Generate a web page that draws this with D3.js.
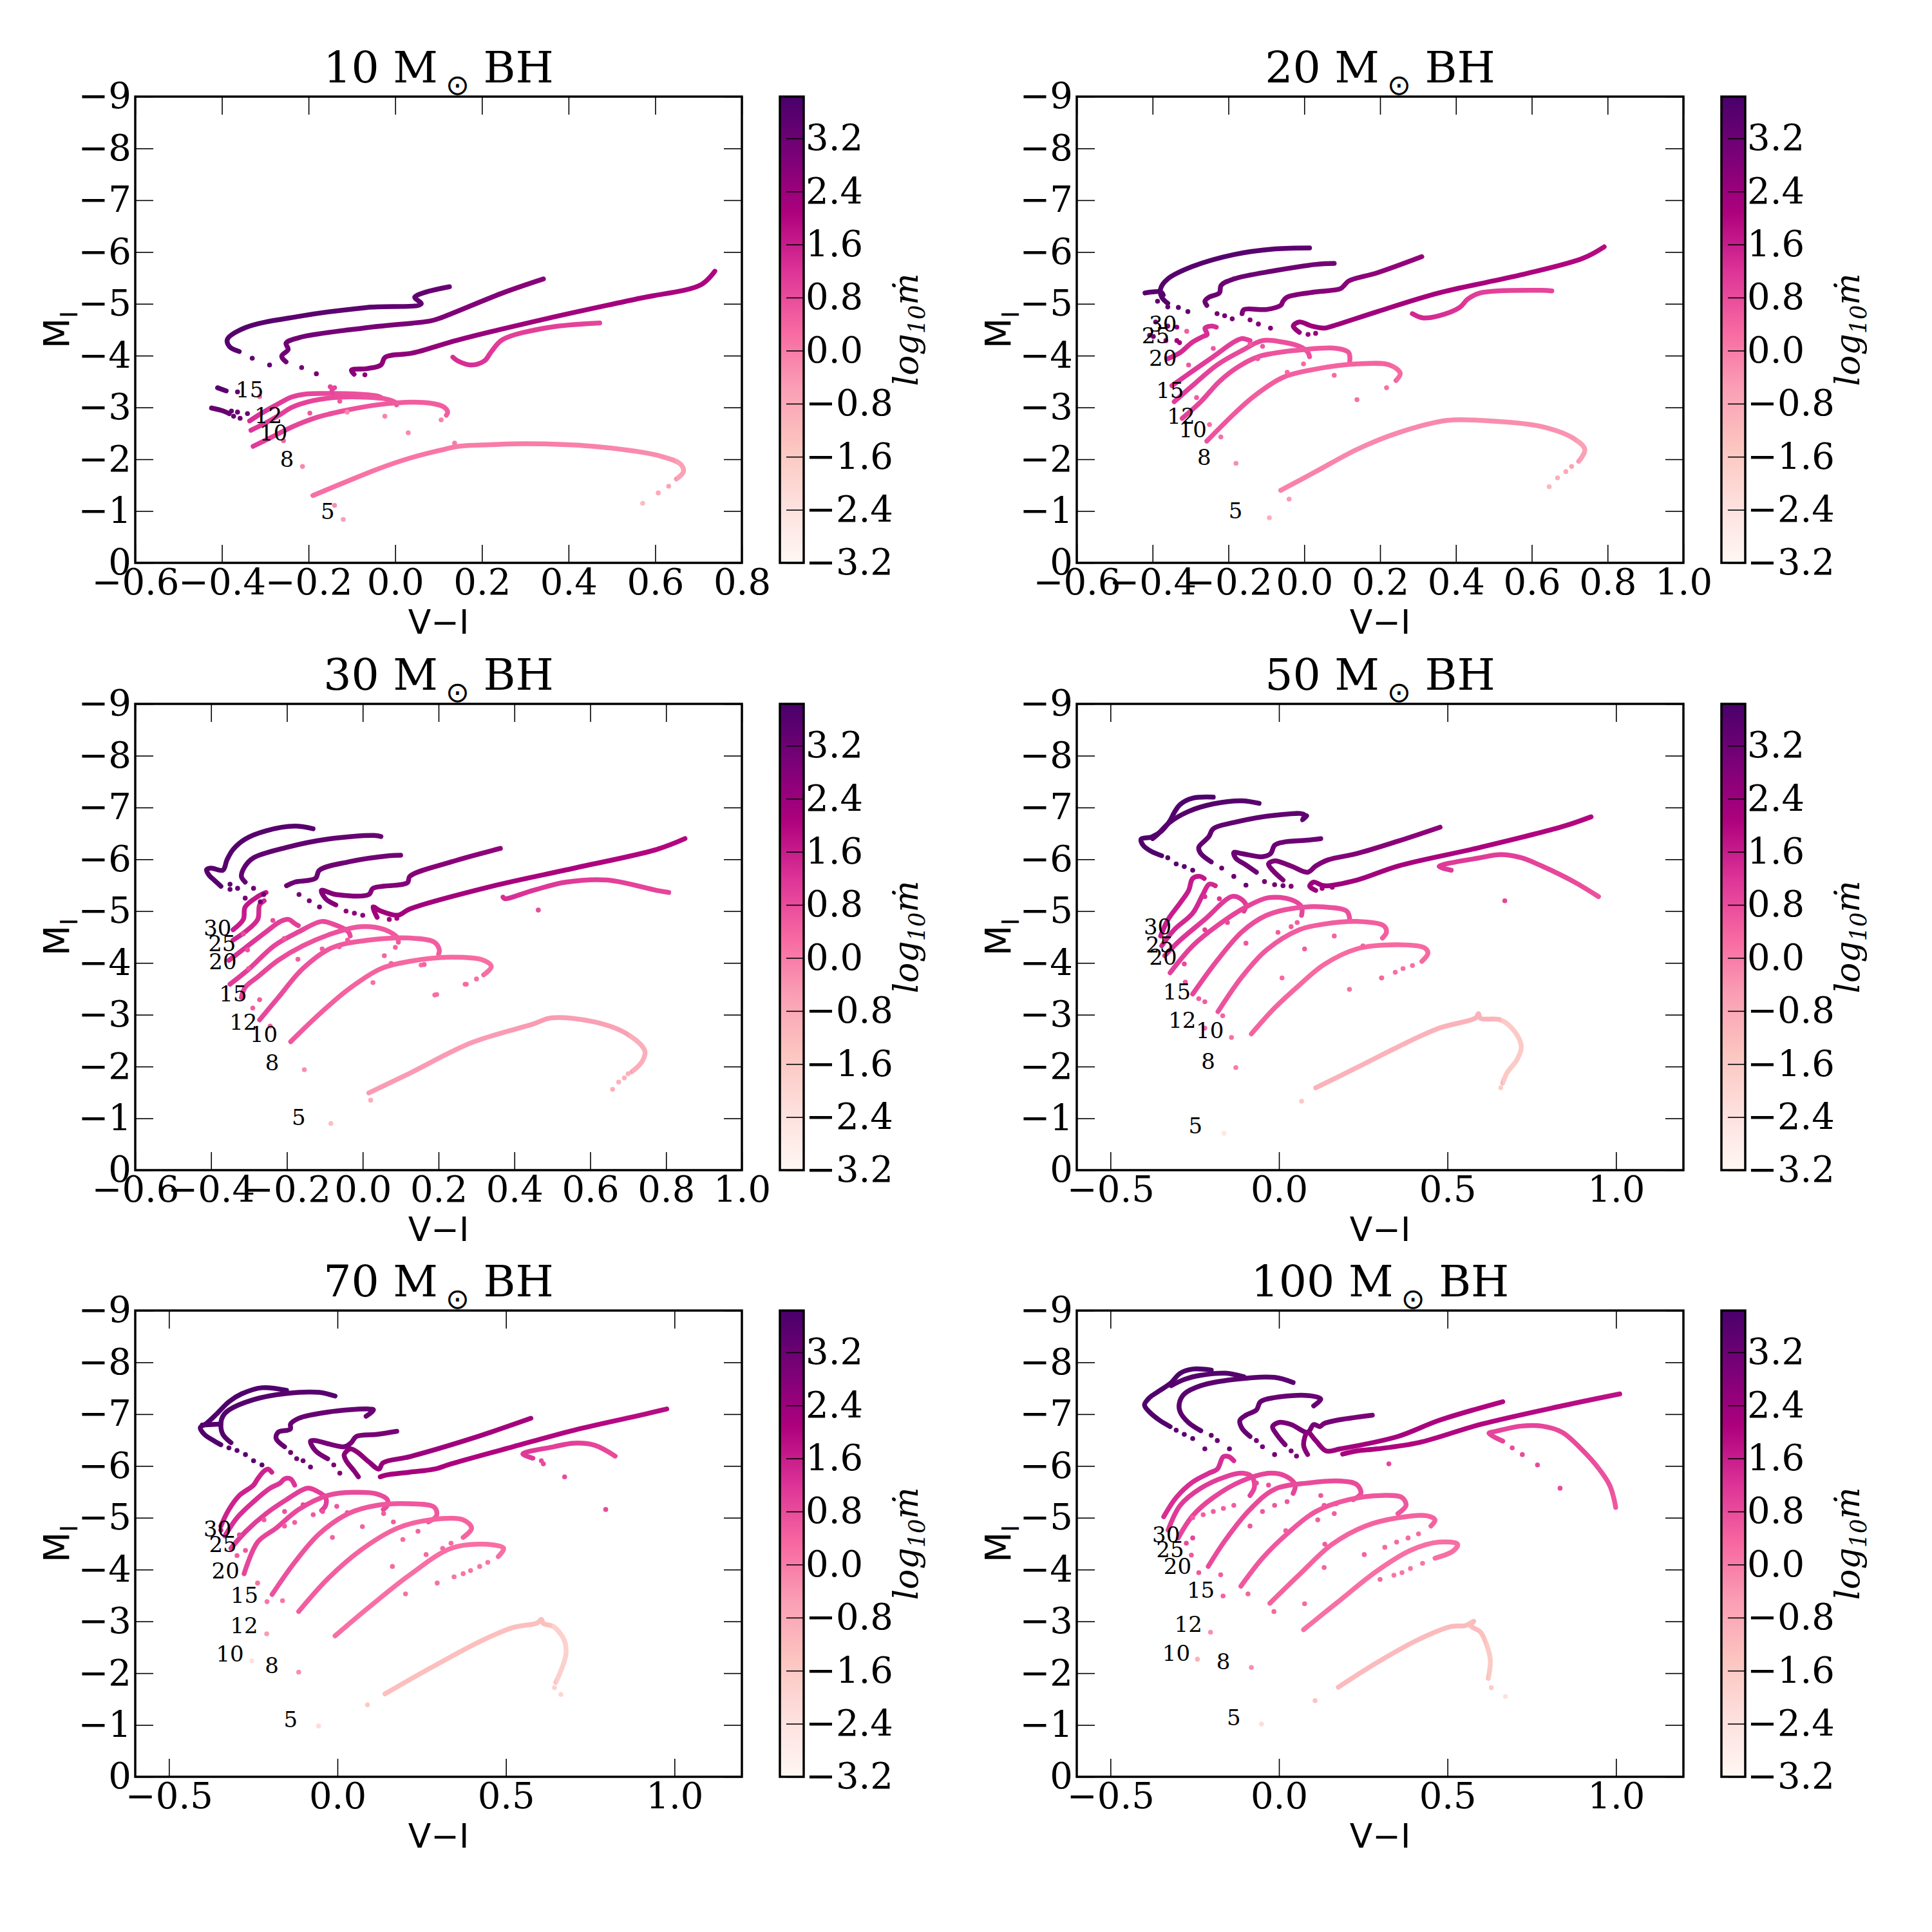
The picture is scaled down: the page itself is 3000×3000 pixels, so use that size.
<!DOCTYPE html>
<html>
<head>
<meta charset="utf-8">
<script src="https://cdn.jsdelivr.net/npm/d3@7"></script>
<style>
  body { margin: 0; background: #fff; }
</style>
</head>
<body>
<script>
// ---- data ----
const bhMasses = ["10", "20", "30", "50", "70", "100"];
const xDomains = [[-0.6, 0.8], [-0.6, 1.0], [-0.6, 1.0], [-0.6, 1.2], [-0.6, 1.2], [-0.6, 1.2]];
const xTicksFine = [-0.6, -0.4, -0.2, 0.0, 0.2, 0.4, 0.6, 0.8, 1.0];
const xTicksCoarse = [-0.5, 0.0, 0.5, 1.0];
const yTicks = [-9, -8, -7, -6, -5, -4, -3, -2, -1, 0];
const cbTicks = [-3.2, -2.4, -1.6, -0.8, 0.0, 0.8, 1.6, 2.4, 3.2];
const cRange = [-3.2, 3.83];

// tracks: [V-I, M_I, log10 mdot]
const tracks10 = [
  [[0.125,-5.33,3.3],[0.045,-5.13,3.4],[0.06,-5.0,3.4],[-0.065,-4.93,3.5],[-0.221,-4.76,3.5],[-0.346,-4.54,3.6],[-0.3875,-4.31,3.6],[-0.382,-4.17,3.6],[-0.36,-4.08,3.6]],
  [[0.342,-5.48,2.7],[0.248,-5.21,2.8],[0.102,-4.72,2.9],[0.081,-4.67,2.9],[-0.065,-4.54,3.0],[-0.221,-4.35,3.1],[-0.252,-4.24,3.1],[-0.247,-4.12,3.1],[-0.262,-3.99,3.1],[-0.252,-3.88,3.1]],
  [[0.7375,-5.63,2.0],[0.706,-5.37,2.1],[0.56,-5.10,2.2],[0.352,-4.72,2.3],[0.144,-4.30,2.5],[0.04,-4.05,2.6],[-0.023,-3.97,2.6],[-0.033,-3.82,2.7],[-0.065,-3.75,2.7],[-0.101,-3.72,2.7],[-0.095,-3.64,2.7]],
  [[0.472,-4.63,0.9],[0.352,-4.54,1.0],[0.248,-4.31,1.0],[0.222,-4.08,1.1],[0.206,-3.90,1.2],[0.175,-3.82,1.3],[0.144,-3.90,1.3],[0.133,-3.97,1.3]],
  [[-0.41,-3.38,3.5],[-0.39,-3.32,3.5]],
  [[-0.424,-2.99,3.3],[-0.40,-2.94,3.3],[-0.383,-2.88,3.3]],
  [[-0.336,-2.74,1.3],[-0.308,-2.89,1.2],[-0.274,-3.05,1.1],[-0.239,-3.20,1.0],[-0.205,-3.26,0.9],[-0.16,-3.27,0.8],[-0.091,-3.26,0.7],[-0.041,-3.22,0.7],[-0.03,-3.18,0.7]],
  [[-0.333,-2.56,1.2],[-0.299,-2.70,1.1],[-0.264,-2.87,1.0],[-0.239,-3.0,1.0],[-0.19,-3.13,0.9],[-0.14,-3.19,0.8],[-0.08,-3.20,0.7],[-0.02,-3.16,0.6],[0.0,-3.10,0.6],[0.003,-3.05,0.6]],
  [[-0.328,-2.25,1.1],[-0.289,-2.41,1.0],[-0.239,-2.62,0.9],[-0.18,-2.81,0.8],[-0.116,-2.94,0.7],[-0.041,-3.05,0.6],[0.033,-3.10,0.5],[0.083,-3.08,0.5],[0.112,-3.01,0.5],[0.121,-2.91,0.5],[0.118,-2.85,0.5]],
  [[-0.19,-1.30,0.2],[-0.115,-1.56,0.2],[-0.041,-1.81,0.1],[0.033,-2.02,0.1],[0.107,-2.18,0.1],[0.147,-2.25,0.0],[0.22,-2.28,0.0],[0.30,-2.30,0.0],[0.456,-2.25,-0.1],[0.6125,-2.06,-0.3],[0.659,-1.90,-0.4],[0.665,-1.76,-0.5],[0.649,-1.62,-0.6]]
];
const dots10 = [
  [-0.33,-3.95,3.4],[-0.29,-3.82,3.4],[-0.216,-3.77,3.0],[-0.182,-3.65,3.0],[-0.07,-3.63,2.7],
  [-0.364,-3.30,3.4],[-0.378,-2.93,3.3],[-0.364,-2.91,3.3],[-0.341,-2.88,3.2],[-0.373,-2.83,3.3],[-0.358,-2.79,3.2],
  [-0.15,-3.40,0.9],[-0.14,-3.38,0.9],[-0.146,-3.33,0.9],[-0.145,-3.28,0.9],[0.137,-2.31,0.0],
  [0.631,-1.48,-0.7],[0.607,-1.35,-0.8],[0.571,-1.15,-1.2],[-0.14,-1.11,-0.3],[-0.12,-0.84,-0.6],
  [-0.214,-1.86,-0.2],[-0.258,-2.36,0.4],[-0.197,-2.89,0.6],[-0.128,-3.12,0.6],[-0.111,-2.91,-0.2],
  [-0.024,-2.83,-0.1],[0.03,-2.51,-0.2],[0.106,-2.76,-0.1],[-0.313,-3.21,0.4]
];
const labels10 = [["15",-0.336,-3.34],["12",-0.293,-2.85],["10",-0.281,-2.51],["8",-0.25,-2.0],["5",-0.156,-1.0]];

const tracks20 = [
  [[0.014,-6.08,3.5],[-0.078,-6.06,3.5],[-0.186,-5.95,3.6],[-0.295,-5.72,3.6],[-0.36,-5.48,3.6],[-0.379,-5.29,3.6],[-0.376,-5.13,3.6],[-0.36,-5.01,3.6]],
  [[-0.42,-5.21,3.6],[-0.40,-5.23,3.6],[-0.378,-5.23,3.6],[-0.372,-5.17,3.6]],
  [[0.079,-5.78,3.1],[0.03,-5.76,3.1],[-0.078,-5.64,3.2],[-0.186,-5.48,3.2],[-0.219,-5.36,3.2],[-0.224,-5.21,3.2],[-0.251,-5.13,3.2],[-0.262,-5.05,3.2],[-0.257,-4.97,3.2]],
  [[0.31,-5.91,2.5],[0.193,-5.60,2.6],[0.117,-5.44,2.7],[0.106,-5.36,2.7],[0.095,-5.29,2.7],[0.03,-5.23,2.8],[-0.045,-5.13,2.8],[-0.056,-5.05,2.8],[-0.062,-4.97,2.8],[-0.1,-4.89,2.8],[-0.159,-4.89,2.9],[-0.164,-4.81,2.9]],
  [[0.791,-6.10,1.9],[0.735,-5.88,2.0],[0.572,-5.56,2.1],[0.355,-5.21,2.2],[0.193,-4.85,2.3],[0.074,-4.57,2.4],[0.052,-4.53,2.4],[0.02,-4.57,2.4],[-0.013,-4.65,2.4],[-0.029,-4.57,2.4],[-0.013,-4.45,2.4]],
  [[0.653,-5.25,0.9],[0.626,-5.26,0.9],[0.464,-5.21,1.0],[0.431,-5.09,1.1],[0.41,-4.93,1.2],[0.355,-4.77,1.3],[0.312,-4.73,1.4],[0.285,-4.81,1.4]],
  [[-0.36,-3.94,1.4],[-0.327,-4.06,1.4],[-0.295,-4.26,1.3],[-0.267,-4.37,1.3],[-0.256,-4.41,1.3],[-0.262,-4.53,1.3],[-0.246,-4.57,1.3],[-0.232,-4.55,1.3]],
  [[-0.349,-3.42,1.2],[-0.295,-3.70,1.1],[-0.24,-3.98,1.0],[-0.186,-4.26,1.0],[-0.164,-4.33,1.0],[-0.143,-4.29,1.0]],
  [[-0.343,-3.11,1.1],[-0.295,-3.42,1.0],[-0.23,-3.82,0.9],[-0.164,-4.10,0.8],[-0.11,-4.29,0.8],[-0.056,-4.26,0.7],[-0.013,-4.18,0.7],[0.009,-4.07,0.7],[0.014,-3.98,0.7]],
  [[-0.322,-2.79,1.0],[-0.273,-3.11,0.9],[-0.224,-3.50,0.8],[-0.175,-3.78,0.8],[-0.121,-3.98,0.7],[-0.024,-4.10,0.6],[0.085,-4.14,0.6],[0.117,-4.06,0.6],[0.12,-3.90,0.6]],
  [[-0.257,-2.35,0.7],[-0.186,-2.87,0.6],[-0.132,-3.22,0.5],[-0.056,-3.58,0.5],[0.03,-3.74,0.4],[0.139,-3.84,0.4],[0.225,-3.82,0.4],[0.253,-3.66,0.4],[0.242,-3.52,0.3]],
  [[-0.062,-1.40,-0.1],[0.03,-1.76,-0.1],[0.139,-2.19,-0.2],[0.247,-2.51,-0.2],[0.377,-2.75,-0.2],[0.464,-2.75,-0.3],[0.626,-2.63,-0.3],[0.713,-2.39,-0.4],[0.74,-2.19,-0.5],[0.724,-1.96,-0.6]]
];
const dots20 = [
  [-0.332,-4.93,3.4],[-0.307,-4.85,3.4],[-0.387,-5.05,3.4],[-0.36,-4.94,3.4],
  [-0.23,-4.81,3.1],[-0.21,-4.77,3.1],[-0.19,-4.71,3.1],[-0.143,-4.69,2.8],[-0.121,-4.61,2.8],[-0.089,-4.53,2.8],
  [0.01,-4.41,2.4],[0.03,-4.43,2.4],
  [0.705,-1.86,-0.7],[0.69,-1.76,-0.8],[0.668,-1.64,-0.9],[0.646,-1.47,-1.1],[-0.04,-1.23,-0.5],[-0.092,-0.87,-0.9],
  [-0.18,-1.92,-0.3],[0.139,-3.15,0.2],[0.079,-3.62,0.3],[-0.002,-3.84,0.3],[-0.045,-3.68,0.3],[0.217,-3.38,0.2],
  [-0.25,-2.67,0.2],[-0.22,-2.43,0.2],[-0.305,-3.82,0.6],[-0.24,-4.14,0.6],[-0.143,-4.22,0.6],[-0.11,-4.18,0.6],
  [-0.123,-3.94,0.6],[-0.284,-3.19,0.5],[-0.31,-4.47,0.5],
  [-0.392,-4.65,3.0],[-0.36,-4.57,2.8],[-0.336,-4.55,2.6],[-0.408,-4.39,3.2],[-0.398,-4.37,3.2],[-0.365,-4.29,2.4],[-0.336,-4.29,2.3],[-0.329,-4.25,2.2]
];
const labels20 = [["30",-0.373,-4.61],["25",-0.392,-4.39],["20",-0.373,-3.95],["15",-0.354,-3.33],["12",-0.325,-2.83],["10",-0.294,-2.57],["8",-0.264,-2.04],["5",-0.181,-1.01]];

const tracks30 = [
  [[-0.131,-6.59,3.6],[-0.179,-6.64,3.6],[-0.255,-6.55,3.6],[-0.31,-6.39,3.6],[-0.342,-6.19,3.6],[-0.358,-5.99,3.6],[-0.369,-5.79,3.6],[-0.40,-5.83,3.6],[-0.412,-5.80,3.6],[-0.405,-5.69,3.6],[-0.392,-5.60,3.6],[-0.374,-5.48,3.6]],
  [[0.048,-6.44,3.3],[0.03,-6.46,3.3],[-0.093,-6.39,3.4],[-0.201,-6.23,3.4],[-0.288,-6.03,3.4],[-0.31,-5.87,3.4],[-0.32,-5.67,3.4],[-0.31,-5.56,3.4]],
  [[0.1,-6.08,3.1],[0.07,-6.07,3.1],[-0.038,-5.95,3.1],[-0.114,-5.79,3.2],[-0.125,-5.63,3.2],[-0.179,-5.56,3.2],[-0.201,-5.49,3.2]],
  [[0.363,-6.21,2.6],[0.233,-5.95,2.7],[0.124,-5.67,2.8],[0.118,-5.55,2.8],[0.027,-5.44,2.8],[0.016,-5.32,2.8],[-0.071,-5.32,2.8],[-0.109,-5.40,2.8],[-0.098,-5.24,2.8],[-0.071,-5.12,2.8]],
  [[0.85,-6.40,2.0],[0.775,-6.19,2.0],[0.558,-5.83,2.1],[0.341,-5.48,2.2],[0.124,-5.04,2.3],[0.092,-4.92,2.3],[0.048,-5.0,2.3],[0.027,-5.08,2.3],[0.038,-4.88,2.3]],
  [[0.807,-5.36,0.9],[0.775,-5.40,0.9],[0.645,-5.60,1.0],[0.536,-5.56,1.1],[0.449,-5.40,1.2],[0.374,-5.24,1.3],[0.37,-5.27,1.3]],
  [[-0.342,-4.64,1.6],[-0.315,-4.84,1.6],[-0.31,-5.08,1.7],[-0.277,-5.28,1.7],[-0.255,-5.36,1.7]],
  [[-0.342,-4.44,1.5],[-0.31,-4.60,1.4],[-0.277,-4.84,1.4],[-0.272,-5.12,1.4],[-0.26,-5.20,1.4]],
  [[-0.353,-4.05,1.3],[-0.31,-4.29,1.2],[-0.255,-4.60,1.1],[-0.217,-4.80,1.0],[-0.196,-4.84,1.0],[-0.179,-4.76,1.0],[-0.17,-4.72,1.0]],
  [[-0.35,-3.59,1.1],[-0.299,-3.89,1.0],[-0.234,-4.33,0.9],[-0.169,-4.60,0.9],[-0.109,-4.80,0.8],[-0.082,-4.76,0.8],[-0.038,-4.60,0.8],[-0.033,-4.52,0.8]],
  [[-0.32,-3.33,1.0],[-0.31,-3.53,0.9],[-0.277,-3.73,0.9],[-0.223,-4.05,0.8],[-0.158,-4.33,0.7],[-0.071,-4.59,0.7],[-0.006,-4.70,0.6],[0.059,-4.64,0.6],[0.092,-4.48,0.6],[0.094,-4.40,0.6]],
  [[-0.272,-2.90,0.9],[-0.223,-3.33,0.8],[-0.158,-3.89,0.7],[-0.082,-4.29,0.6],[0.016,-4.44,0.5],[0.124,-4.48,0.5],[0.189,-4.40,0.5],[0.202,-4.25,0.5],[0.2,-4.17,0.5]],
  [[-0.19,-2.48,0.6],[-0.125,-2.94,0.5],[-0.038,-3.49,0.4],[0.048,-3.89,0.4],[0.124,-4.03,0.3],[0.233,-4.11,0.3],[0.319,-4.05,0.3],[0.339,-3.93,0.3],[0.319,-3.77,0.2]],
  [[0.016,-1.49,-0.5],[0.124,-1.87,-0.5],[0.287,-2.46,-0.5],[0.449,-2.82,-0.5],[0.498,-2.94,-0.5],[0.612,-2.86,-0.6],[0.699,-2.62,-0.6],[0.744,-2.30,-0.7],[0.737,-2.10,-0.8],[0.71,-1.90,-0.9]]
];
const dots30 = [
  [-0.35,-5.42,3.4],[-0.33,-5.44,3.4],[-0.35,-5.52,3.4],[-0.288,-5.44,3.2],[-0.261,-5.32,3.2],
  [-0.168,-5.32,3.0],[-0.141,-5.2,3.0],[-0.114,-5.08,3.0],[-0.044,-5.0,2.6],[-0.022,-4.96,2.6],[0.0,-4.92,2.6],
  [0.07,-4.84,2.2],[0.09,-4.86,2.2],[0.463,-5.02,0.8],[-0.31,-5.25,3.0],[-0.27,-5.18,3.0],
  [0.30,-3.69,0.2],[0.27,-3.59,0.2],[0.19,-3.38,0.2],[0.154,-3.96,0.2],[0.027,-3.62,0.2],
  [0.70,-1.86,-1.0],[0.69,-1.78,-1.0],[0.675,-1.70,-1.0],[0.659,-1.56,-1.0],[0.021,-1.35,-0.9],[-0.084,-0.90,-1.3],
  [-0.237,-4.82,0.8],[-0.207,-4.47,0.6],[-0.171,-4.07,0.5],[-0.107,-4.27,0.5],[-0.04,-4.44,0.5],[-0.062,-4.31,0.5],
  [0.057,-4.14,0.4],[0.086,-4.30,0.4],[0.075,-3.99,0.4],[0.162,-3.97,0.4],[0.195,-3.39,0.2],[0.273,-3.59,0.3],
  [-0.315,-4.56,0.8],[-0.304,-4.25,0.7],[-0.301,-3.89,0.6],[-0.272,-3.29,0.5],[-0.29,-3.13,0.5],[-0.154,-1.94,-0.3],[-0.244,-2.78,0.4]
];
const labels30 = [["30",-0.383,-4.68],["25",-0.371,-4.37],["20",-0.369,-4.03],["15",-0.342,-3.40],["12",-0.315,-2.86],["10",-0.261,-2.62],["8",-0.239,-2.08],["5",-0.169,-1.02]];

const tracks50 = [
  [[-0.195,-7.20,3.7],[-0.256,-7.18,3.7],[-0.293,-7.06,3.7],[-0.311,-6.90,3.7],[-0.323,-6.75,3.7],[-0.348,-6.55,3.7],[-0.378,-6.43,3.7],[-0.409,-6.39,3.7],[-0.403,-6.27,3.7],[-0.378,-6.15,3.7],[-0.348,-6.07,3.7]],
  [[-0.059,-7.08,3.6],[-0.11,-7.13,3.6],[-0.195,-7.07,3.6],[-0.27,-6.92,3.6],[-0.325,-6.71,3.6],[-0.36,-6.48,3.6],[-0.375,-6.40,3.6]],
  [[0.082,-6.84,3.4],[0.07,-6.76,3.4],[0.075,-6.86,3.4],[-0.013,-6.85,3.4],[-0.134,-6.71,3.4],[-0.195,-6.59,3.4],[-0.208,-6.44,3.4],[-0.22,-6.36,3.4],[-0.238,-6.23,3.4],[-0.232,-6.11,3.4],[-0.201,-5.95,3.4]],
  [[0.124,-6.40,3.2],[0.085,-6.37,3.2],[0.012,-6.33,3.2],[-0.013,-6.27,3.2],[-0.025,-6.11,3.2],[-0.049,-6.05,3.2],[-0.11,-6.11,3.2],[-0.134,-6.13,3.2],[-0.128,-6.02,3.2],[-0.098,-5.89,3.2],[-0.067,-5.75,3.2]],
  [[0.478,-6.62,2.6],[0.353,-6.35,2.7],[0.231,-6.11,2.8],[0.146,-5.99,2.8],[0.109,-5.87,2.9],[0.085,-5.75,2.9],[0.036,-5.87,2.9],[-0.013,-5.97,2.9],[-0.031,-5.91,2.9],[-0.019,-5.79,2.9],[0.012,-5.60,2.9]],
  [[0.926,-6.82,2.0],[0.84,-6.63,2.0],[0.597,-6.23,2.1],[0.353,-5.87,2.2],[0.231,-5.60,2.3],[0.134,-5.49,2.4],[0.103,-5.56,2.4],[0.091,-5.48,2.4],[0.109,-5.40,2.4]],
  [[0.511,-5.79,1.1],[0.475,-5.86,1.1],[0.597,-6.03,1.1],[0.658,-6.09,1.0],[0.719,-6.03,1.0],[0.78,-5.87,0.9],[0.877,-5.56,0.8],[0.948,-5.28,0.7]],
  [[-0.351,-4.52,1.6],[-0.329,-4.84,1.6],[-0.293,-5.16,1.6],[-0.268,-5.40,1.6],[-0.256,-5.63,1.7],[-0.234,-5.67,1.7],[-0.222,-5.63,1.7]],
  [[-0.348,-4.33,1.4],[-0.311,-4.64,1.4],[-0.256,-4.96,1.4],[-0.226,-5.32,1.4],[-0.207,-5.52,1.4],[-0.189,-5.49,1.4]],
  [[-0.339,-4.14,1.2],[-0.293,-4.44,1.2],[-0.22,-4.84,1.1],[-0.141,-5.28,1.1],[-0.116,-5.25,1.1],[-0.098,-5.12,1.1],[-0.104,-5.00,1.1]],
  [[-0.323,-3.81,1.0],[-0.256,-4.33,1.0],[-0.183,-4.72,0.9],[-0.098,-5.08,0.9],[-0.031,-5.26,0.9],[0.036,-5.22,0.9],[0.067,-5.08,0.9],[0.067,-4.92,0.9]],
  [[-0.256,-3.40,0.9],[-0.183,-4.05,0.8],[-0.11,-4.60,0.8],[-0.037,-4.92,0.7],[0.048,-5.06,0.7],[0.134,-5.08,0.7],[0.201,-5.0,0.7],[0.21,-4.84,0.7]],
  [[-0.181,-3.06,0.7],[-0.11,-3.73,0.6],[-0.037,-4.25,0.6],[0.06,-4.64,0.5],[0.134,-4.75,0.5],[0.231,-4.80,0.5],[0.31,-4.72,0.5],[0.319,-4.60,0.5],[0.307,-4.48,0.5]],
  [[-0.082,-2.63,0.4],[-0.013,-3.13,0.4],[0.06,-3.57,0.3],[0.134,-3.97,0.3],[0.231,-4.27,0.3],[0.353,-4.35,0.3],[0.432,-4.29,0.3],[0.442,-4.19,0.3],[0.424,-4.03,0.3]],
  [[0.109,-1.59,-1.0],[0.231,-1.98,-1.0],[0.353,-2.38,-1.0],[0.475,-2.74,-1.0],[0.584,-2.94,-1.0],[0.592,-3.02,-1.0],[0.598,-2.93,-1.0],[0.658,-2.90,-1.1],[0.701,-2.66,-1.2],[0.719,-2.38,-1.3],[0.707,-2.14,-1.4],[0.676,-1.87,-1.5],[0.664,-1.68,-1.6]]
];
const dots50 = [
  [-0.33,-6.03,3.5],[-0.305,-5.91,3.5],[-0.281,-5.86,3.5],[-0.256,-5.79,3.5],
  [-0.17,-5.83,3.3],[-0.134,-5.67,3.3],[-0.098,-5.50,3.3],[-0.043,-5.57,3.1],[-0.013,-5.51,3.1],[0.012,-5.49,3.1],
  [0.036,-5.48,2.8],[0.128,-5.44,2.3],[0.158,-5.46,2.3],[0.67,-5.20,0.9],
  [0.396,-3.95,0.2],[0.368,-3.89,0.2],[0.345,-3.82,0.2],[0.305,-3.71,0.2],
  [0.658,-1.59,-1.7],[0.067,-1.33,-1.5],[-0.163,-0.71,-2.6],
  [-0.22,-4.64,1.0],[-0.153,-4.78,0.8],[-0.098,-4.38,0.6],[-0.003,-4.59,0.5],[0.076,-4.27,0.5],[0.009,-3.71,0.3],
  [0.209,-3.49,0.2],[0.304,-3.71,0.3],[0.164,-4.52,0.4],[0.249,-4.33,0.4],[-0.281,-3.98,0.8],[-0.278,-3.63,0.6],
  [-0.238,-3.31,0.5],[-0.22,-3.25,0.5],[-0.167,-2.98,0.4],[-0.141,-2.56,0.2],[-0.128,-1.98,0.0],[-0.22,-2.74,0.3],
  [0.036,-4.70,0.5],[0.054,-4.78,0.5],[-0.22,-5.28,1.3],[-0.177,-5.24,1.2]
];
const labels50 = [["30",-0.36,-4.70],["25",-0.354,-4.35],["20",-0.344,-4.11],["15",-0.303,-3.44],["12",-0.287,-2.90],["10",-0.205,-2.70],["8",-0.21,-2.10],["5",-0.248,-0.86]];

const tracks70 = [
  [[-0.151,-7.46,3.7],[-0.224,-7.51,3.7],[-0.285,-7.39,3.7],[-0.322,-7.24,3.7],[-0.359,-7.0,3.7],[-0.389,-6.82,3.7],[-0.407,-6.74,3.7],[-0.395,-6.61,3.7],[-0.365,-6.48,3.7],[-0.346,-6.41,3.7]],
  [[-0.007,-7.35,3.6],[-0.054,-7.42,3.6],[-0.151,-7.40,3.6],[-0.249,-7.28,3.6],[-0.322,-7.08,3.6],[-0.34,-6.96,3.6],[-0.346,-6.81,3.6],[-0.34,-6.61,3.6],[-0.316,-6.45,3.6]],
  [[-0.401,-6.79,3.6],[-0.346,-6.81,3.6]],
  [[0.085,-6.96,3.3],[0.107,-7.08,3.3],[0.09,-7.10,3.3],[-0.029,-7.04,3.3],[-0.115,-6.92,3.3],[-0.139,-6.81,3.3],[-0.14,-6.71,3.3],[-0.176,-6.65,3.3],[-0.182,-6.53,3.3],[-0.157,-6.37,3.3]],
  [[0.176,-6.67,3.0],[0.117,-6.61,3.0],[0.056,-6.57,3.0],[0.041,-6.45,3.0],[0.02,-6.37,3.0],[-0.066,-6.49,3.0],[-0.08,-6.48,3.0],[-0.066,-6.30,3.0],[-0.029,-6.14,3.0]],
  [[0.574,-6.92,2.2],[0.398,-6.53,2.3],[0.215,-6.18,2.4],[0.135,-6.06,2.5],[0.123,-5.94,2.5],[0.093,-6.08,2.6],[0.056,-6.28,2.6],[0.038,-6.33,2.7],[0.02,-6.22,2.7],[0.026,-6.10,2.7],[0.05,-5.90,2.7],[0.062,-5.79,2.7]],
  [[0.977,-7.10,1.9],[0.885,-6.96,1.9],[0.702,-6.69,2.0],[0.52,-6.37,2.0],[0.337,-6.04,2.1],[0.288,-5.94,2.1],[0.215,-5.88,2.2],[0.141,-5.82,2.2],[0.127,-5.79,2.2]],
  [[0.58,-6.15,1.1],[0.55,-6.23,1.1],[0.641,-6.37,1.0],[0.702,-6.44,1.0],[0.763,-6.40,0.9],[0.824,-6.19,0.8]],
  [[-0.346,-4.84,1.5],[-0.322,-5.16,1.5],[-0.291,-5.43,1.5],[-0.249,-5.63,1.5],[-0.237,-5.75,1.5],[-0.218,-5.90,1.5],[-0.206,-5.94,1.5],[-0.195,-5.88,1.5]],
  [[-0.334,-4.65,1.3],[-0.298,-5.0,1.3],[-0.249,-5.31,1.3],[-0.2,-5.57,1.2],[-0.17,-5.67,1.2],[-0.157,-5.75,1.2],[-0.139,-5.75,1.2],[-0.127,-5.63,1.2]],
  [[-0.316,-4.41,1.1],[-0.273,-4.73,1.1],[-0.212,-5.08,1.0],[-0.151,-5.35,1.0],[-0.09,-5.57,1.0],[-0.06,-5.51,1.0],[-0.035,-5.39,1.0],[-0.035,-5.24,1.0],[-0.047,-5.14,1.0]],
  [[-0.277,-3.92,0.9],[-0.237,-4.53,0.9],[-0.182,-4.80,0.9],[-0.115,-5.16,0.8],[-0.029,-5.43,0.8],[0.044,-5.49,0.8],[0.117,-5.46,0.8],[0.148,-5.35,0.8],[0.148,-5.24,0.8],[0.136,-5.16,0.8]],
  [[-0.194,-3.52,0.7],[-0.127,-4.14,0.7],[-0.054,-4.69,0.6],[0.032,-5.08,0.6],[0.117,-5.24,0.6],[0.215,-5.27,0.6],[0.288,-5.20,0.6],[0.294,-5.04,0.6],[0.27,-4.92,0.6]],
  [[-0.115,-3.19,0.5],[-0.029,-3.82,0.5],[0.068,-4.37,0.4],[0.178,-4.80,0.4],[0.276,-4.96,0.4],[0.373,-4.96,0.4],[0.398,-4.80,0.4],[0.373,-4.62,0.4]],
  [[-0.007,-2.72,0.2],[0.093,-3.27,0.2],[0.215,-3.90,0.2],[0.337,-4.41,0.2],[0.434,-4.49,0.2],[0.493,-4.41,0.2],[0.477,-4.25,0.2]],
  [[0.141,-1.60,-1.3],[0.276,-2.10,-1.3],[0.422,-2.61,-1.3],[0.52,-2.88,-1.3],[0.593,-2.97,-1.3],[0.605,-3.04,-1.3],[0.611,-2.96,-1.3],[0.641,-2.90,-1.4],[0.672,-2.65,-1.5],[0.678,-2.37,-1.6],[0.666,-2.10,-1.7],[0.648,-1.82,-1.8]]
];
const dots70 = [
  [-0.322,-6.35,3.5],[-0.298,-6.30,3.5],[-0.273,-6.22,3.5],[-0.249,-6.10,3.5],[-0.224,-6.02,3.5],
  [-0.139,-6.26,3.2],[-0.121,-6.14,3.2],[-0.102,-6.10,3.2],[-0.08,-5.98,3.2],[-0.011,-6.02,2.9],[0.007,-5.86,2.9],
  [0.605,-6.10,0.8],[0.611,-6.04,0.8],[0.674,-5.79,0.8],[0.796,-5.16,0.8],
  [0.337,-4.51,0.3],[0.312,-4.41,0.3],[0.446,-4.14,0.1],[0.422,-4.06,0.1],[0.395,-3.98,0.1],[0.373,-3.92,0.1],[0.346,-3.86,0.1],
  [0.644,-1.72,-1.9],[0.663,-1.59,-2.0],[0.089,-1.39,-1.6],[-0.056,-0.98,-2.2],[-0.254,-2.24,-2.4],
  [-0.21,-2.76,-0.5],[-0.115,-2.02,-0.3],[-0.163,-3.40,0.1],[-0.209,-3.38,0.1],[-0.237,-3.74,0.2],[-0.273,-4.37,0.6],
  [-0.291,-4.67,0.8],[-0.298,-4.27,0.5],[-0.218,-4.96,0.6],[-0.157,-4.84,0.5],[-0.127,-4.91,0.5],[-0.015,-4.62,0.4],
  [0.074,-4.83,0.4],[0.163,-4.06,0.3],[0.202,-3.53,0.2],[0.263,-4.29,0.3],[0.296,-3.74,0.2],[0.194,-4.58,0.3],
  [0.239,-4.74,0.4],[0.166,-4.92,0.5],[0.137,-5.08,0.5],[0.029,-5.10,0.6],[-0.002,-5.22,0.6],[-0.044,-5.12,0.7],
  [-0.072,-5.06,0.6],[-0.102,-5.25,0.8],[-0.157,-5.12,0.7],[-0.346,-4.76,1.5]
];
const labels70 = [["30",-0.356,-4.78],["25",-0.34,-4.49],["20",-0.332,-3.98],["15",-0.276,-3.51],["12",-0.277,-2.92],["10",-0.319,-2.37],["8",-0.195,-2.15],["5",-0.139,-1.11]];

const tracks100 = [
  [[-0.201,-7.85,3.7],[-0.256,-7.87,3.7],[-0.293,-7.79,3.7],[-0.323,-7.59,3.7],[-0.36,-7.43,3.7],[-0.384,-7.32,3.7],[-0.399,-7.18,3.7],[-0.384,-7.04,3.7],[-0.354,-6.88,3.7],[-0.323,-6.76,3.7]],
  [[-0.104,-7.72,3.6],[-0.159,-7.79,3.6],[-0.232,-7.75,3.6],[-0.281,-7.67,3.6],[-0.32,-7.55,3.6]],
  [[0.042,-7.61,3.5],[-0.013,-7.71,3.5],[-0.134,-7.67,3.5],[-0.232,-7.55,3.5],[-0.281,-7.39,3.5],[-0.296,-7.20,3.5],[-0.293,-7.04,3.5],[-0.269,-6.84,3.5],[-0.232,-6.68,3.5]],
  [[0.103,-7.16,3.3],[0.124,-7.29,3.3],[0.085,-7.36,3.3],[-0.013,-7.32,3.3],[-0.055,-7.24,3.3],[-0.067,-7.08,3.3],[-0.098,-6.98,3.3],[-0.116,-6.88,3.3],[-0.11,-6.73,3.3],[-0.086,-6.57,3.3]],
  [[0.277,-6.98,2.9],[0.17,-6.88,3.0],[0.134,-6.82,3.0],[0.121,-6.76,3.0],[0.103,-6.80,3.0],[0.085,-6.65,3.0],[0.036,-6.80,3.0],[0.0,-6.84,3.0],[-0.019,-6.76,3.0],[-0.007,-6.61,3.0],[0.018,-6.41,3.0]],
  [[0.664,-7.24,2.0],[0.475,-6.88,2.1],[0.353,-6.57,2.2],[0.182,-6.33,2.3],[0.14,-6.29,2.4],[0.109,-6.49,2.6],[0.085,-6.65,2.7],[0.073,-6.41,2.7],[0.085,-6.22,2.7]],
  [[1.011,-7.39,1.8],[0.84,-7.16,1.9],[0.597,-6.80,2.0],[0.414,-6.45,2.0],[0.292,-6.33,2.1],[0.231,-6.29,2.1],[0.189,-6.23,2.1]],
  [[0.664,-6.48,0.9],[0.623,-6.63,0.9],[0.645,-6.67,0.9],[0.719,-6.77,0.9],[0.78,-6.77,0.9],[0.84,-6.65,0.8],[0.901,-6.30,0.8],[0.95,-5.94,0.7],[0.981,-5.63,0.7],[0.993,-5.39,0.6],[0.999,-5.20,0.6]],
  [[-0.342,-5.02,1.3],[-0.305,-5.39,1.3],[-0.256,-5.69,1.3],[-0.208,-5.86,1.3],[-0.183,-5.94,1.3],[-0.165,-6.18,1.3],[-0.149,-6.18,1.3],[-0.134,-6.10,1.3]],
  [[-0.329,-4.76,1.1],[-0.293,-5.24,1.1],[-0.232,-5.57,1.1],[-0.159,-5.79,1.0],[-0.11,-5.86,1.0],[-0.08,-5.79,1.0],[-0.073,-5.59,1.0],[-0.086,-5.43,0.9]],
  [[-0.299,-4.61,0.9],[-0.256,-5.04,0.9],[-0.195,-5.39,0.9],[-0.11,-5.71,0.9],[-0.025,-5.86,0.9],[0.024,-5.79,0.9],[0.048,-5.63,0.9],[0.042,-5.47,0.9]],
  [[-0.21,-4.06,0.8],[-0.159,-4.57,0.8],[-0.086,-5.16,0.8],[-0.013,-5.55,0.8],[0.085,-5.67,0.8],[0.182,-5.71,0.8],[0.231,-5.64,0.8],[0.243,-5.47,0.8],[0.22,-5.35,0.8]],
  [[-0.113,-3.68,0.6],[-0.049,-4.22,0.6],[0.024,-4.69,0.6],[0.109,-5.12,0.6],[0.207,-5.35,0.6],[0.304,-5.43,0.6],[0.365,-5.39,0.6],[0.377,-5.24,0.6],[0.353,-5.08,0.6]],
  [[-0.027,-3.35,0.4],[0.06,-3.90,0.4],[0.158,-4.49,0.4],[0.256,-4.84,0.4],[0.353,-5.0,0.4],[0.438,-5.04,0.4],[0.463,-4.96,0.4],[0.451,-4.84,0.4]],
  [[0.073,-2.84,0.2],[0.17,-3.35,0.2],[0.292,-3.98,0.2],[0.39,-4.37,0.2],[0.475,-4.53,0.2],[0.53,-4.49,0.2],[0.517,-4.36,0.2],[0.463,-4.22,0.2]],
  [[0.176,-1.73,-1.2],[0.292,-2.21,-1.2],[0.414,-2.65,-1.2],[0.511,-2.90,-1.2],[0.554,-2.92,-1.2],[0.578,-3.0,-1.2],[0.568,-2.92,-1.3],[0.597,-2.80,-1.3],[0.615,-2.57,-1.4],[0.627,-2.25,-1.5],[0.621,-1.90,-1.6]]
];
const dots100 = [
  [-0.305,-6.69,3.5],[-0.281,-6.61,3.5],[-0.256,-6.53,3.5],[-0.201,-6.59,3.3],[-0.183,-6.49,3.3],[-0.147,-6.33,3.3],
  [-0.067,-6.49,3.1],[-0.049,-6.37,3.1],[-0.013,-6.22,3.1],[0.036,-6.29,2.9],[0.052,-6.19,2.9],[-0.22,-6.33,3.2],
  [0.692,-6.35,0.8],[0.722,-6.22,0.8],[0.767,-6.02,0.8],[0.834,-5.57,0.8],[0.326,-6.04,0.9],
  [-0.134,-5.24,0.5],[-0.165,-5.18,0.5],[-0.195,-5.12,0.5],[-0.225,-5.06,0.5],[-0.256,-5.0,0.5],
  [0.024,-5.31,0.6],[-0.013,-5.24,0.6],[-0.049,-5.12,0.6],[0.17,-5.27,0.6],[0.134,-5.24,0.6],
  [0.414,-4.69,0.3],[0.383,-4.61,0.3],[0.349,-4.53,0.3],[0.314,-4.43,0.3],
  [0.426,-4.12,0.1],[0.39,-4.02,0.1],[0.365,-3.94,0.1],[0.341,-3.89,0.1],
  [0.63,-1.72,-1.7],[0.672,-1.55,-2.4],[0.107,-1.47,-1.4],[-0.052,-1.02,-2.2],
  [-0.238,-3.94,0.6],[-0.173,-3.90,0.5],[-0.166,-3.49,0.4],[-0.092,-3.53,0.4],[-0.015,-3.19,0.3],[0.076,-3.34,0.3],
  [0.134,-4.04,0.4],[0.136,-4.49,0.5],[0.253,-4.29,0.4],[0.3,-3.81,0.3],[0.124,-5.43,0.6],[0.164,-5.08,0.5],
  [0.115,-4.96,0.5],[0.02,-4.75,0.5],[-0.086,-4.84,0.6],[-0.067,-5.67,0.8],[-0.031,-5.63,0.7],[-0.256,-4.61,0.9],
  [-0.26,-4.28,0.6],[-0.275,-4.51,0.8],[-0.203,-2.79,-0.3],[-0.242,-2.27,-1.0],[-0.082,-2.11,-0.3]
];
const labels100 = [["30",-0.335,-4.67],["25",-0.323,-4.39],["20",-0.301,-4.07],["15",-0.232,-3.60],["12",-0.269,-2.94],["10",-0.305,-2.39],["8",-0.165,-2.23],["5",-0.134,-1.14]];

// ---- layout ----
const W = 3000, H = 3000;
const colLeft = [210, 1672];
const rowTop = [150, 1093, 2035];
const plotW = 942, plotH = 724;
const cbGap = 1001, cbW = 37;
const tickLen = 28;
const tickFont = 56;
const serif = "'DejaVu Serif', 'Liberation Serif', serif";
const sans = "'DejaVu Sans', 'Liberation Sans', sans-serif";

const panels = bhMasses.map((m, i) => ({
  mass: m,
  xDomain: xDomains[i],
  xTicks: i < 3 ? xTicksFine.filter(t => t <= xDomains[i][1] + 1e-9) : xTicksCoarse,
  tracks: [tracks10, tracks20, tracks30, tracks50, tracks70, tracks100][i],
  dots: [dots10, dots20, dots30, dots50, dots70, dots100][i],
  labels: [labels10, labels20, labels30, labels50, labels70, labels100][i]
}));

// matplotlib RdPu: 9 brewer colours spread linearly over the colour range
const rdpu = d3.schemeRdPu[9];
const color = d3.scaleLinear()
  .domain(d3.range(9).map(k => cRange[0] + k * (cRange[1] - cRange[0]) / 8))
  .range(rdpu)
  .clamp(true);

const svg = d3.select("body").append("svg")
  .attr("width", W).attr("height", H)
  .attr("viewBox", `0 0 ${W} ${H}`);
svg.append("rect").attr("width", W).attr("height", H).attr("fill", "#fff");
const defs = svg.append("defs");

panels.forEach((p, i) => {
  const left = colLeft[i % 2];
  const top = rowTop[Math.floor(i / 2)];
  const x = d3.scaleLinear().domain(p.xDomain).range([left, left + plotW]);
  const y = d3.scaleLinear().domain([0, -9]).range([top + plotH, top]);
  const g = svg.append("g");

  defs.append("clipPath").attr("id", "clip" + i)
    .append("rect").attr("x", left).attr("y", top).attr("width", plotW).attr("height", plotH);

  const plot = g.append("g").attr("clip-path", `url(#clip${i})`);

  const line = d3.line()
    .x(d => x(d[0])).y(d => y(d[1]))
    .curve(d3.curveCatmullRom.alpha(0.5));

  // tracks, coloured by log10 mdot with a gradient along the track
  p.tracks.forEach((tr, j) => {
    const id = `grad${i}_${j}`;
    const a = [x(tr[0][0]), y(tr[0][1])];
    const b = [x(tr[tr.length - 1][0]), y(tr[tr.length - 1][1])];
    const dx = b[0] - a[0], dy = b[1] - a[1];
    const len2 = dx * dx + dy * dy;
    let stroke;
    if (len2 < 4) {
      stroke = color(d3.mean(tr, d => d[2]));
    } else {
      const grad = defs.append("linearGradient").attr("id", id)
        .attr("gradientUnits", "userSpaceOnUse")
        .attr("x1", a[0]).attr("y1", a[1]).attr("x2", b[0]).attr("y2", b[1]);
      const stops = tr.map(d => {
        const t = ((x(d[0]) - a[0]) * dx + (y(d[1]) - a[1]) * dy) / len2;
        return [Math.max(0, Math.min(1, t)), d[2]];
      }).sort((u, v) => u[0] - v[0]);
      stops.forEach(s => grad.append("stop").attr("offset", s[0]).attr("stop-color", color(s[1])));
      stroke = `url(#${id})`;
    }
    plot.append("path")
      .attr("d", line(tr))
      .attr("fill", "none")
      .attr("stroke", stroke)
      .attr("stroke-width", 7.5)
      .attr("stroke-linecap", "round")
      .attr("stroke-linejoin", "round");
  });

  plot.selectAll("circle.dot").data(p.dots).join("circle")
    .attr("class", "dot")
    .attr("cx", d => x(d[0])).attr("cy", d => y(d[1]))
    .attr("r", 3.8)
    .attr("fill", d => color(d[2]));

  // donor-mass labels
  g.selectAll("text.mlab").data(p.labels).join("text")
    .attr("class", "mlab")
    .attr("x", d => x(d[1])).attr("y", d => y(d[2]))
    .attr("text-anchor", "middle")
    .attr("dominant-baseline", "central")
    .attr("font-family", serif).attr("font-size", 34)
    .text(d => d[0]);

  // axes, ticks inward on all sides
  const fmtX = d3.format(".1f");
  const styleAxis = sel => {
    sel.select(".domain").remove();
    sel.selectAll(".tick line").attr("stroke", "#000").attr("stroke-width", 1.6);
    sel.selectAll(".tick text").attr("font-family", serif).attr("font-size", tickFont).attr("fill", "#000");
  };
  g.append("g").attr("transform", `translate(0,${top + plotH})`)
    .call(d3.axisBottom(x).tickValues(p.xTicks).tickFormat(fmtX).tickSizeInner(-tickLen).tickSizeOuter(0).tickPadding(9))
    .call(styleAxis);
  g.append("g").attr("transform", `translate(0,${top})`)
    .call(d3.axisTop(x).tickValues(p.xTicks).tickFormat("").tickSizeInner(-tickLen).tickSizeOuter(0))
    .call(styleAxis);
  g.append("g").attr("transform", `translate(${left},0)`)
    .call(d3.axisLeft(y).tickValues(yTicks).tickFormat(d3.format(".0f")).tickSizeInner(-tickLen).tickSizeOuter(0).tickPadding(6))
    .call(styleAxis);
  g.append("g").attr("transform", `translate(${left + plotW},0)`)
    .call(d3.axisRight(y).tickValues(yTicks).tickFormat("").tickSizeInner(-tickLen).tickSizeOuter(0))
    .call(styleAxis);

  g.append("rect")
    .attr("x", left).attr("y", top).attr("width", plotW).attr("height", plotH)
    .attr("fill", "none").attr("stroke", "#000").attr("stroke-width", 3.5);

  // title
  const title = g.append("text")
    .attr("x", left + plotW / 2).attr("y", top - 22)
    .attr("text-anchor", "middle")
    .attr("font-family", serif).attr("font-size", 68);
  title.append("tspan").text(`${p.mass} M`);
  title.append("tspan").attr("font-size", 44).attr("dx", 12).attr("dy", 19)
    .attr("font-family", sans).text("\u2299");
  title.append("tspan").attr("dy", -19).text(" BH");

  // axis labels
  g.append("text")
    .attr("x", left + plotW / 2).attr("y", top + plotH + 110)
    .attr("text-anchor", "middle")
    .attr("font-family", sans).attr("font-size", 52)
    .text("V\u2212I");
  const yl = g.append("text")
    .attr("transform", `translate(${left - 103},${top + plotH / 2}) rotate(-90)`)
    .attr("text-anchor", "middle")
    .attr("font-family", sans).attr("font-size", 55);
  yl.append("tspan").text("M");
  yl.append("tspan").attr("font-size", 37).attr("dy", 13).text("I");

  // colourbar
  const cbX = left + cbGap;
  const cy = d3.scaleLinear().domain(cRange).range([top + plotH, top]);
  const cbId = "cb" + i;
  const cbGrad = defs.append("linearGradient").attr("id", cbId)
    .attr("x1", 0).attr("y1", 1).attr("x2", 0).attr("y2", 0);
  rdpu.forEach((c, k) => cbGrad.append("stop").attr("offset", k / 8).attr("stop-color", c));
  g.append("rect").attr("x", cbX).attr("y", top).attr("width", cbW).attr("height", plotH)
    .attr("fill", `url(#${cbId})`);
  g.append("g").attr("transform", `translate(${cbX + cbW},0)`)
    .call(d3.axisRight(cy).tickValues(cbTicks).tickFormat(d3.format(".1f")).tickSizeInner(-27).tickSizeOuter(0).tickPadding(3))
    .call(styleAxis);
  g.append("rect").attr("x", cbX).attr("y", top).attr("width", cbW).attr("height", plotH)
    .attr("fill", "none").attr("stroke", "#000").attr("stroke-width", 3.5);

  const cl = g.append("text")
    .attr("transform", `translate(${cbX + cbW + 177},${top + plotH / 2}) rotate(-90)`)
    .attr("text-anchor", "middle")
    .attr("font-family", serif).attr("font-style", "italic").attr("font-size", 52);
  cl.append("tspan").text("log");
  cl.append("tspan").attr("font-size", 35).attr("dy", 11).text("10");
  cl.append("tspan").attr("dy", -11).text("\u1E41");
});
</script>
</body>
</html>
